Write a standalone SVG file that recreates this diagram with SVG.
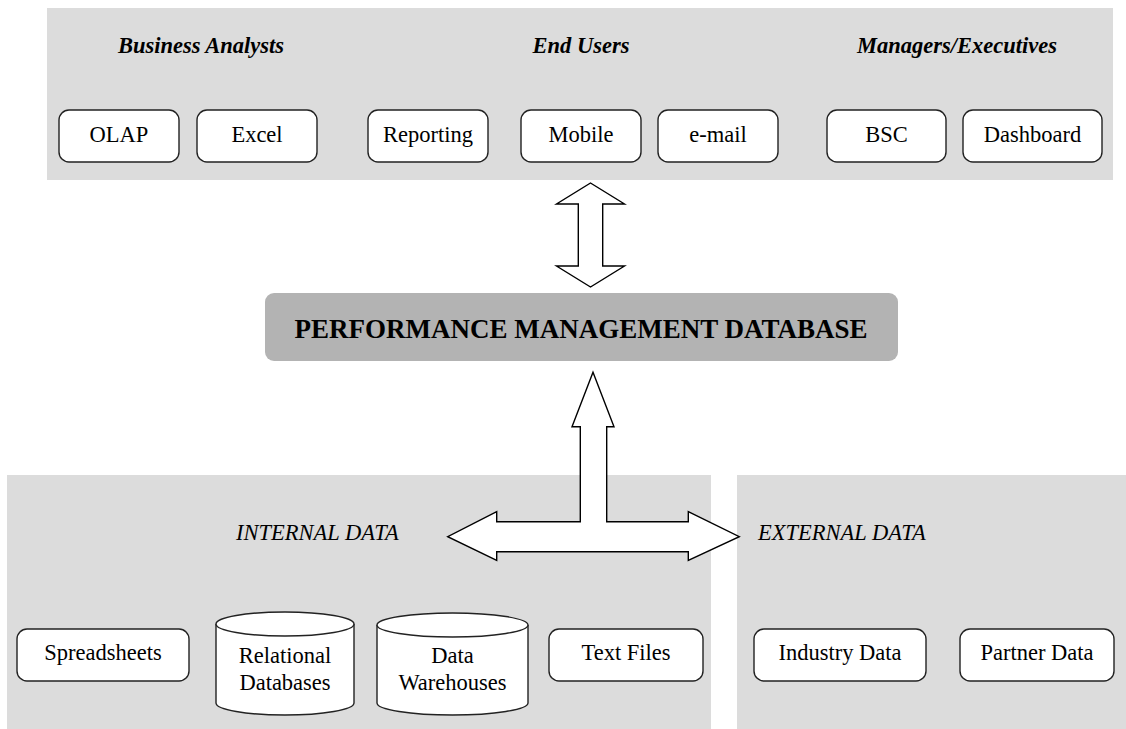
<svg xmlns="http://www.w3.org/2000/svg" width="1126" height="729" viewBox="0 0 1126 729" font-family="'Liberation Serif', serif">
  <style>
    text { font-family: 'Liberation Serif', serif; font-size: 22.5px; fill: #000; text-anchor: middle; }
    .title { font-weight: bold; font-style: italic; }
    .section { font-style: italic; text-anchor: start; }
    .panel { fill: #dcdcdc; stroke: none; }
    .box { fill: #fff; stroke: #222; stroke-width: 1.4; }
    .arrow { fill: #fff; stroke: #000; stroke-width: 1.4; stroke-linejoin: miter; }
    .core { fill: #b3b3b3; stroke: none; }
    .coretext { font-weight: bold; font-size: 27px; }
  </style>

  <!-- background panels -->
  <g id="users-panel">
    <rect class="panel" x="47" y="8" width="1066" height="172"/>
    <text class="title" x="201" y="53">Business Analysts</text>
    <text class="title" x="581" y="53">End Users</text>
    <text class="title" x="957" y="53">Managers/Executives</text>
  </g>
  <g id="internal-panel">
    <rect class="panel" x="7" y="475" width="704" height="254"/>
    <text class="section" x="236" y="539.5">INTERNAL DATA</text>
  </g>
  <g id="external-panel">
    <rect class="panel" x="737" y="475" width="389" height="254"/>
    <text class="section" x="758" y="540">EXTERNAL DATA</text>
  </g>

  <!-- front-end tools -->
  <g id="olap"><rect class="box" x="59" y="110" width="120" height="52" rx="10"/><text x="119" y="141.5">OLAP</text></g>
  <g id="excel"><rect class="box" x="197" y="110" width="120" height="52" rx="10"/><text x="257" y="141.5">Excel</text></g>
  <g id="reporting"><rect class="box" x="368" y="110" width="120" height="52" rx="10"/><text x="428" y="141.5">Reporting</text></g>
  <g id="mobile"><rect class="box" x="521" y="110" width="120" height="52" rx="10"/><text x="581" y="141.5">Mobile</text></g>
  <g id="email"><rect class="box" x="658" y="110" width="120" height="52" rx="10"/><text x="718" y="141.5">e-mail</text></g>
  <g id="bsc"><rect class="box" x="827" y="110" width="119" height="52" rx="10"/><text x="886.5" y="141.5">BSC</text></g>
  <g id="dashboard"><rect class="box" x="963" y="110" width="139" height="52" rx="10"/><text x="1032.5" y="141.5">Dashboard</text></g>

  <!-- central database -->
  <g id="pm-database">
    <rect class="core" x="265" y="293" width="633" height="68" rx="9"/>
    <text class="coretext" x="581" y="337.5">PERFORMANCE MANAGEMENT DATABASE</text>
  </g>

  <!-- data sources -->
  <g id="spreadsheets"><rect class="box" x="17" y="629" width="172" height="52" rx="10"/><text x="103" y="660">Spreadsheets</text></g>
  <g id="relational-db">
    <path class="box" d="M216,624 A69,12 0 0 1 354,624 L354,703 A69,12 0 0 1 216,703 Z"/>
    <path class="box" fill="none" d="M216,624 A69,12 0 0 0 354,624"/>
    <text x="285" y="663">Relational</text>
    <text x="285" y="690">Databases</text>
  </g>
  <g id="data-warehouses">
    <path class="box" d="M377,625 A75.5,12 0 0 1 528,625 L528,703 A75.5,12 0 0 1 377,703 Z"/>
    <path class="box" fill="none" d="M377,625 A75.5,12 0 0 0 528,625"/>
    <text x="452.5" y="663">Data</text>
    <text x="452.5" y="690">Warehouses</text>
  </g>
  <g id="text-files"><rect class="box" x="549" y="629" width="154" height="52" rx="10"/><text x="626" y="660">Text Files</text></g>
  <g id="industry-data"><rect class="box" x="754" y="629" width="172" height="52" rx="10"/><text x="840" y="660">Industry Data</text></g>
  <g id="partner-data"><rect class="box" x="960" y="629" width="154" height="52" rx="10"/><text x="1037" y="660">Partner Data</text></g>

  <!-- connectors: block arrows -->
  <g id="connectors">
    <polygon class="arrow" points="590.5,183 624.5,204 602.7,204 602.7,266 624.5,266 590.5,287 556.5,266 578.3,266 578.3,204 556.5,204"/>
    <polygon class="arrow" points="593,372.3 614,426.7 606.7,426.7 606.7,521.7 688.3,521.7 688.3,511.7 739.3,536.7 688.3,560.5 688.3,551.7 496.7,551.7 496.7,560.5 447.7,536.7 496.7,511.7 496.7,521.7 580.3,521.7 580.3,426.7 572,426.7"/>
  </g>
</svg>
